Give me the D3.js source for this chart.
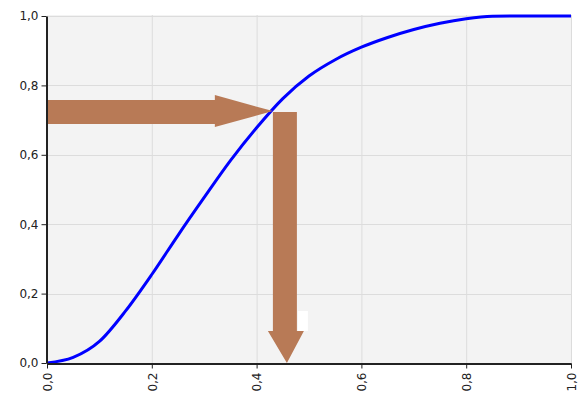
<!DOCTYPE html>
<html><head><meta charset="utf-8">
<script src="https://cdn.jsdelivr.net/npm/d3@7"></script>
<style>body{margin:0;background:#fff}svg{display:block}</style>
</head><body>
<svg id="c" width="579" height="405"></svg>
<script>
const xValues = [0,0.05,0.1,0.15,0.2,0.25,0.3,0.35,0.4,0.45,0.5,0.55,0.6,0.65,0.7,0.75,0.8,0.85,0.9,0.95,1.0];
const yValues = [0,0.016,0.062,0.15,0.255,0.368,0.477,0.583,0.678,0.762,0.827,0.874,0.91,0.938,0.961,0.979,0.992,0.999,1.0,1.0,1.0];
const xTicks = [0,0.2,0.4,0.6,0.8,1.0];
const yTicks = [0,0.2,0.4,0.6,0.8,1.0];
const arrowLevel = [0.723];   // horizontal arrow y
const arrowHit = [0.431, 0.454]; // horizontal tip x, vertical arrow x

const svg = d3.select("#c");
const L=47,R=571,T=16,B=363;
const x = d3.scaleLinear().domain([0,1]).range([L,R]);
const y = d3.scaleLinear().domain([0,1]).range([B,T]);
const fmt = d => d3.format(".1f")(d).replace(".", ",");

svg.append("rect").attr("x",L).attr("y",T-1).attr("width",R-L).attr("height",B-T+1).attr("fill","#f3f3f3");
// grid
svg.append("g").selectAll("line").data(xTicks.slice(1)).join("line")
  .attr("x1",d=>x(d)+0.5).attr("x2",d=>x(d)+0.5).attr("y1",T-1).attr("y2",B)
  .attr("stroke","#dcdcdc").attr("stroke-width",1);
svg.append("g").selectAll("line").data(yTicks.slice(1)).join("line")
  .attr("y1",d=>Math.round(y(d))+0.5).attr("y2",d=>Math.round(y(d))+0.5).attr("x1",L).attr("x2",R)
  .attr("stroke","#dcdcdc").attr("stroke-width",1);

// curve
const line = d3.line().x((d,i)=>x(xValues[i])).y(d=>y(d)).curve(d3.curveMonotoneX);
svg.append("path").datum(yValues).attr("d",line).attr("fill","none")
  .attr("stroke","#0000ff").attr("stroke-width",3);

// arrows
const col = "#b87a56";
const yc = y(arrowLevel[0]);
const tipX = x(arrowHit[0]);
const vx = x(arrowHit[1]);
svg.append("path").attr("fill",col).attr("d",
  `M${L},${yc-12} L${tipX-58},${yc-12} L${tipX-58},${yc-17} L${tipX},${yc-1} L${tipX-58},${yc+15} L${tipX-58},${yc+12} L${L},${yc+12} Z`);
svg.append("rect").attr("x",vx+13).attr("y",y(0)-52).attr("width",10).attr("height",20).attr("fill","#fff");
svg.append("path").attr("fill",col).attr("d",
  `M${vx-12},${yc} L${vx+12},${yc} L${vx+12},${y(0)-32} L${vx+19},${y(0)-32} L${vx+2},${y(0)} L${vx-17},${y(0)-32} L${vx-12},${y(0)-32} Z`);

// axes
const ax = svg.append("g").attr("transform",`translate(0,${B+0.5})`)
  .call(d3.axisBottom(x).tickValues(xTicks).tickFormat(fmt).tickSize(5).tickSizeOuter(0));
ax.select(".domain").attr("stroke","#222").attr("stroke-width",2);
ax.selectAll(".tick line").attr("stroke","#222");
ax.selectAll("text").attr("transform","rotate(-90)").attr("text-anchor","end")
  .attr("x",-9).attr("y",0).attr("dy","0.35em").attr("font-size",12)
  .attr("font-family","DejaVu Sans, sans-serif").attr("fill","#222");
const ay = svg.append("g").attr("transform",`translate(${L-0.5},0)`)
  .call(d3.axisLeft(y).tickValues(yTicks).tickFormat(fmt).tickSize(5).tickSizeOuter(0));
ay.select(".domain").attr("stroke","#222").attr("stroke-width",2);
ay.selectAll(".tick line").attr("stroke","#222");
ay.selectAll("text").attr("font-size",12).attr("font-family","DejaVu Sans, sans-serif").attr("fill","#222").attr("x",-8);
</script>
</body></html>
